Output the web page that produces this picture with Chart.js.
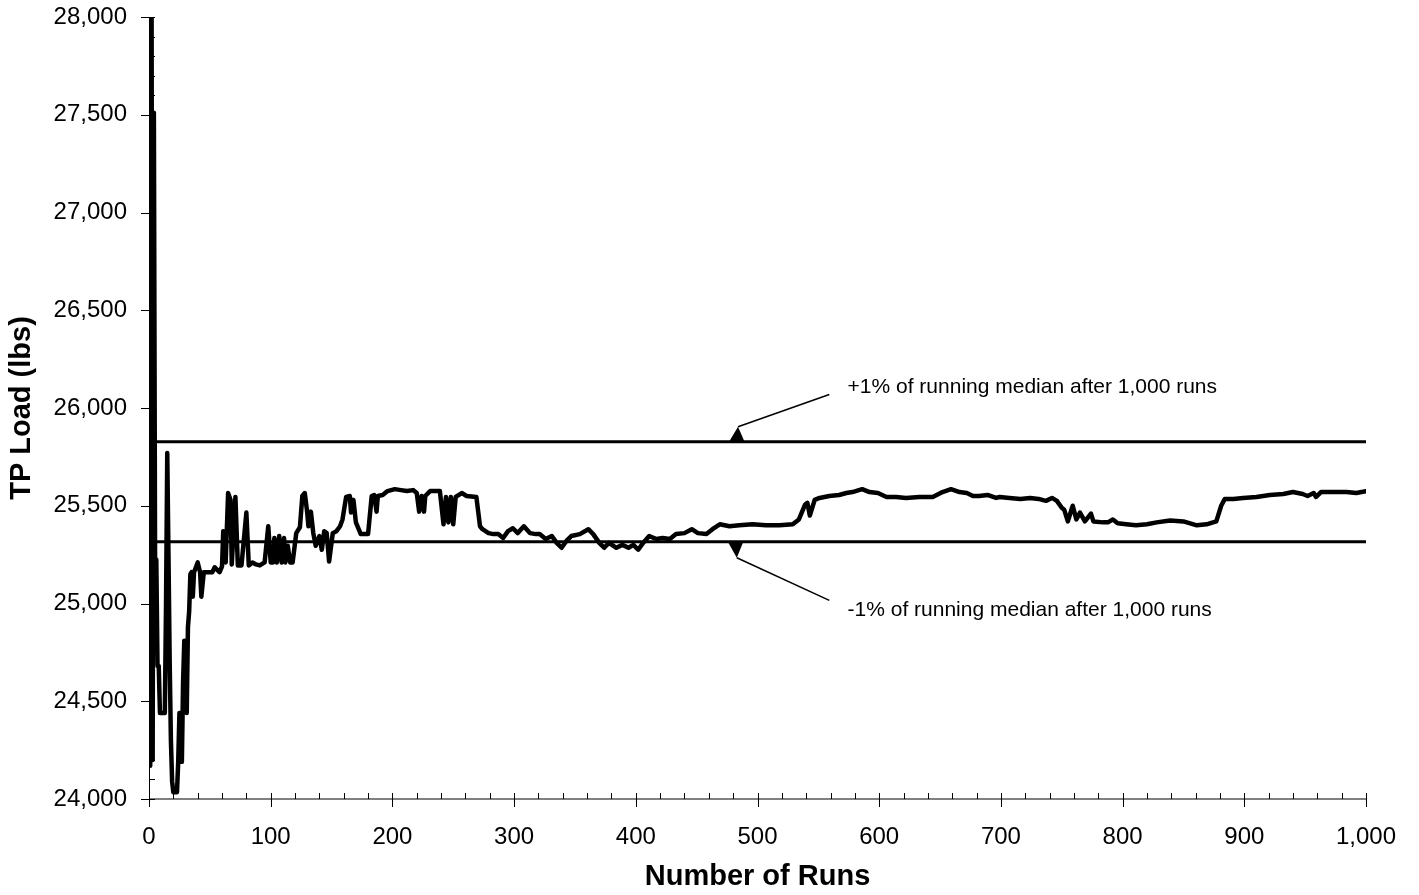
<!DOCTYPE html>
<html>
<head>
<meta charset="utf-8">
<title>TP Load running median</title>
<script src="https://cdn.jsdelivr.net/npm/chart.js@4.4.0/dist/chart.umd.min.js"></script>
<style>
  html, body { margin: 0; padding: 0; background: #ffffff; }
  canvas { display: block; }
</style>
</head>
<body>
<canvas id="chart" width="1419" height="895"></canvas>
<script>
// Running median of TP load versus number of Monte Carlo runs
const runs = [
  0, 1, 2, 3, 4, 5, 6, 7, 8, 9, 13, 14, 15, 16, 17, 18, 19, 20, 23, 24,
  25, 26, 27, 28, 29, 30, 31, 32, 33, 34, 35, 36, 37, 40, 42, 43, 45, 52, 54, 58,
  60, 61, 63, 65, 67, 68, 71, 73, 76, 80, 82, 85, 88, 91, 95, 98, 100, 102, 103, 105,
  107, 109, 111, 112, 114, 116, 118, 121, 124, 126, 128, 130, 131, 133, 135, 137, 140, 142, 144, 146,
  148, 151, 154, 157, 159, 162, 165, 166, 168, 170, 174, 180, 183, 185, 187, 188, 192, 196, 202, 207,
  212, 217, 220, 222, 224, 226, 227, 231, 239, 242, 244, 246, 248, 250, 252, 257, 261, 269, 272, 274,
  279, 283, 287, 291, 295, 299, 303, 308, 313, 318, 321, 326, 331, 335, 339, 343, 347, 354, 361, 365,
  370, 374, 378, 384, 389, 394, 398, 402, 406, 411, 417, 422, 428, 433, 440, 446, 451, 458, 463, 469,
  477, 485, 496, 507, 518, 529, 534, 539, 541, 543, 547, 551, 559, 567, 573, 578, 586, 592, 599, 606,
  614, 622, 633, 644, 652, 659, 666, 672, 677, 682, 689, 696, 699, 707, 716, 724, 731, 737, 742, 746,
  750, 752, 755, 759, 762, 765, 769, 774, 776, 784, 788, 792, 796, 803, 811, 820, 828, 839, 850, 861,
  869, 877, 881, 884, 891, 899, 910, 921, 932, 940, 948, 952, 957, 959, 963, 973, 984, 992, 1000
];

const tpLoad = [
  29500, 24170, 28600, 24200, 27510, 25225, 25225, 24680, 24680, 24440, 24440, 25000, 25770, 25250, 24700, 24300, 24090, 24035, 24035, 24190,
  24440, 24440, 24190, 24600, 24810, 24800, 24440, 24880, 24960, 25150, 25160, 25035, 25160, 25210, 25160, 25035, 25160, 25160, 25185, 25160,
  25190, 25370, 25210, 25565, 25530, 25200, 25545, 25195, 25195, 25465, 25195, 25210, 25200, 25195, 25210, 25395, 25210, 25210, 25335, 25210,
  25345, 25210, 25335, 25210, 25295, 25210, 25210, 25360, 25390, 25550, 25565, 25465, 25395, 25470, 25360, 25295, 25345, 25275, 25370, 25360,
  25215, 25360, 25370, 25395, 25430, 25545, 25550, 25465, 25530, 25415, 25355, 25355, 25550, 25555, 25470, 25550, 25555, 25575, 25585, 25580,
  25575, 25580, 25565, 25470, 25550, 25470, 25550, 25575, 25575, 25405, 25545, 25415, 25545, 25405, 25545, 25565, 25550, 25545, 25395, 25380,
  25360, 25355, 25355, 25335, 25370, 25385, 25360, 25395, 25360, 25355, 25355, 25330, 25345, 25310, 25285, 25320, 25345, 25355, 25380, 25355,
  25310, 25285, 25310, 25285, 25300, 25285, 25300, 25275, 25310, 25345, 25330, 25335, 25330, 25355, 25360, 25380, 25360, 25355, 25380, 25405,
  25395, 25400, 25405, 25400, 25400, 25405, 25430, 25505, 25515, 25450, 25530, 25540, 25550, 25555, 25565, 25570, 25585, 25570, 25565, 25545,
  25545, 25540, 25545, 25545, 25570, 25585, 25570, 25565, 25550, 25550, 25555, 25540, 25545, 25540, 25535, 25540, 25535, 25525, 25540, 25525,
  25490, 25480, 25420, 25500, 25430, 25465, 25420, 25460, 25420, 25415, 25415, 25430, 25410, 25405, 25400, 25405, 25415, 25425, 25420, 25400,
  25405, 25420, 25500, 25535, 25535, 25540, 25545, 25555, 25560, 25570, 25560, 25550, 25565, 25545, 25570, 25570, 25570, 25565, 25575
];

// Running median after 1,000 runs and the ±1% band drawn around it
const finalMedian = 25572;
const bandFraction = 0.01;
const upperBand = finalMedian * (1 + bandFraction);
const lowerBand = finalMedian * (1 - bandFraction);

// Axis ranges and tick spacing
const xRange = [0, 1000];
const xMajorStep = 100;
const xMinorStep = 20;
const yRange = [24000, 28000];
const yMajorStep = 500;
const yMinorStep = 100;

// Callout labels for the band lines (positions in data units)
const callouts = [
  { text: '+1% of running median after 1,000 runs', label: [574, 26105], tail: [559, 26069], head: [484, 25904], band: upperBand },
  { text: '-1% of running median after 1,000 runs',  label: [574, 24964], tail: [559, 25016], head: [483, 25234], band: lowerBand }
];

const series = runs.map((r, i) => ({ x: r, y: tpLoad[i] }));
const bandLine = v => [{ x: xRange[0], y: v }, { x: xRange[1], y: v }];
const withCommas = v => Number(v).toLocaleString('en-US');

const FONT = '"Liberation Sans", Arial, Helvetica, sans-serif';

// Axis lines plus major (outside) and minor (inside) tick marks
const axisMarks = {
  id: 'axisMarks',
  beforeDatasetsDraw(chart) {
    const { ctx, chartArea: a, scales: { x, y } } = chart;
    ctx.save();
    ctx.lineCap = 'butt';

    // x axis line
    ctx.strokeStyle = '#808080';
    ctx.lineWidth = 2;
    ctx.beginPath();
    ctx.moveTo(a.left, a.bottom);
    ctx.lineTo(a.right, a.bottom);
    ctx.stroke();

    // y axis line
    ctx.strokeStyle = '#000000';
    ctx.lineWidth = 1;
    ctx.beginPath();
    ctx.moveTo(Math.round(a.left) + 0.5, a.top);
    ctx.lineTo(Math.round(a.left) + 0.5, a.bottom);
    ctx.stroke();

    ctx.lineWidth = 1;
    ctx.strokeStyle = '#000000';
    ctx.beginPath();
    for (let v = xRange[0]; v <= xRange[1]; v += xMinorStep) {
      const px = Math.round(x.getPixelForValue(v)) + 0.5;
      const major = v % xMajorStep === 0;
      ctx.moveTo(px, a.bottom - 6);
      ctx.lineTo(px, a.bottom + (major ? 8 : 0));
    }
    for (let v = yRange[0]; v <= yRange[1]; v += yMinorStep) {
      const py = Math.round(y.getPixelForValue(v)) + 0.5;
      const major = v % yMajorStep === 0;
      ctx.moveTo(a.left - (major ? 8 : 0), py);
      ctx.lineTo(a.left + 6, py);
    }
    ctx.stroke();
    ctx.restore();
  }
};

// Callout text with an arrow pointing at each band line
const bandCallouts = {
  id: 'bandCallouts',
  afterDatasetsDraw(chart) {
    const { ctx, scales: { x, y } } = chart;
    ctx.save();
    ctx.fillStyle = '#000000';
    ctx.strokeStyle = '#000000';
    ctx.lineWidth = 1.5;
    ctx.font = '21px ' + FONT;
    ctx.textAlign = 'left';
    ctx.textBaseline = 'middle';
    callouts.forEach(c => {
      const tx = x.getPixelForValue(c.tail[0]), ty = y.getPixelForValue(c.tail[1]);
      const hx = x.getPixelForValue(c.head[0]), hy = y.getPixelForValue(c.head[1]);
      const by = y.getPixelForValue(c.band);
      ctx.beginPath();
      ctx.moveTo(tx, ty);
      ctx.lineTo(hx, hy);
      ctx.stroke();
      ctx.beginPath();
      ctx.moveTo(hx, hy);
      ctx.lineTo(hx - 9, by);
      ctx.lineTo(hx + 6.5, by);
      ctx.closePath();
      ctx.fill();
      ctx.fillText(c.text, x.getPixelForValue(c.label[0]), y.getPixelForValue(c.label[1]));
    });
    ctx.restore();
  }
};

new Chart(document.getElementById('chart'), {
  type: 'line',
  data: {
    datasets: [
      {
        label: 'Running median',
        data: series,
        borderColor: '#000000',
        borderWidth: 4.5,
        borderJoinStyle: 'round',
        borderCapStyle: 'round',
        pointRadius: 0,
        tension: 0,
        fill: false
      },
      {
        label: '+1%',
        data: bandLine(upperBand),
        borderColor: '#000000',
        borderWidth: 3,
        pointRadius: 0,
        fill: false
      },
      {
        label: '-1%',
        data: bandLine(lowerBand),
        borderColor: '#000000',
        borderWidth: 3,
        pointRadius: 0,
        fill: false
      }
    ]
  },
  options: {
    responsive: false,
    animation: false,
    events: [],
    layout: { padding: { top: 17, right: 53, left: 0, bottom: 0 } },
    plugins: {
      legend: { display: false },
      tooltip: { enabled: false }
    },
    scales: {
      x: {
        type: 'linear',
        min: xRange[0],
        max: xRange[1],
        grid: { display: false, drawTicks: false },
        border: { display: false },
        ticks: {
          stepSize: xMajorStep,
          padding: 24,
          color: '#000000',
          font: { family: FONT, size: 24 },
          maxRotation: 0,
          callback: v => withCommas(v)
        },
        title: {
          display: true,
          text: 'Number of Runs',
          color: '#000000',
          font: { family: FONT, size: 29, weight: 'bold' },
          padding: { top: 0, bottom: 1 }
        },
        afterFit: s => { s.height = 96; s.paddingLeft = 0; s.paddingRight = 0; }
      },
      y: {
        type: 'linear',
        min: yRange[0],
        max: yRange[1],
        grid: { display: false, drawTicks: false },
        border: { display: false },
        ticks: {
          stepSize: yMajorStep,
          padding: 22,
          color: '#000000',
          font: { family: FONT, size: 24 },
          callback: v => withCommas(v)
        },
        title: {
          display: true,
          text: 'TP Load (lbs)',
          color: '#000000',
          font: { family: FONT, size: 29, weight: 'bold' },
          padding: { top: 5, bottom: 0 }
        },
        afterFit: s => { s.width = 149; s.paddingTop = 0; s.paddingBottom = 0; }
      }
    }
  },
  plugins: [axisMarks, bandCallouts]
});
</script>
</body>
</html>
